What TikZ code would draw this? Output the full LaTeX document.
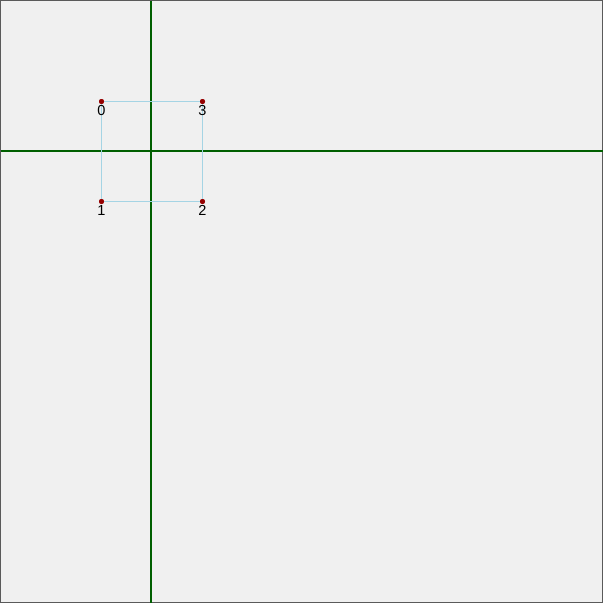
\documentclass[tikz,border=0pt]{standalone}
\usepackage{fontspec}
\setmainfont{Liberation Sans}
\definecolor{axisgreen}{RGB}{0,95,0}
\definecolor{edgeblue}{RGB}{165,212,228}
\definecolor{framegray}{RGB}{90,90,90}
\definecolor{bg}{RGB}{240,240,240}
\definecolor{dotred}{RGB}{150,0,0}
\begin{document}
\begin{tikzpicture}[x=1pt,y=-1pt,
  frame/.style={draw=framegray,fill=bg,line width=1pt},
  axis/.style={draw=axisgreen,line width=1.3pt},
  edge/.style={draw=edgeblue,line width=1.1pt},
  pt/.style={circle,fill=dotred,inner sep=0pt,minimum size=5pt},
  lbl/.style={font=\fontsize{14.5}{15}\selectfont,inner sep=0pt,anchor=north}]
\useasboundingbox (0,0) rectangle (603,603);
\draw[frame] (0.5,0.5) rectangle (602.5,602.5);
\coordinate (vt) at (151,0.5);
\coordinate (vb) at (151,602.5);
\coordinate (hl) at (0.5,151);
\coordinate (hr) at (602.5,151);
\draw[axis] (vt) -- (vb);
\draw[axis] (hl) -- (hr);
\node[pt] (p0) at (101.5,101.5) {};
\node[pt] (p1) at (101.5,201.5) {};
\node[pt] (p2) at (202.5,201.5) {};
\node[pt] (p3) at (202.5,101.5) {};
\draw[edge] (p0.center) -- (p1.center) -- (p2.center) -- (p3.center) -- (p0.center);
\foreach \i in {0,1,2,3} \node[pt] at (p\i) {};
\node[lbl] (l0) at (101.5,105.5) {0};
\node[lbl] (l1) at (101.5,205.5) {1};
\node[lbl] (l2) at (202.5,205.5) {2};
\node[lbl] (l3) at (202.5,105.5) {3};
\end{tikzpicture}
\end{document}
